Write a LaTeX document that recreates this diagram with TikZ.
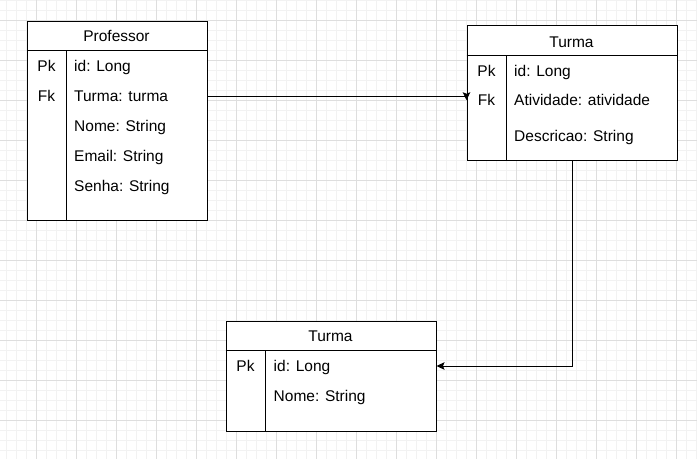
\documentclass[tikz,border=0pt]{standalone}
\usepackage{fontspec}
\setmainfont{Liberation Sans}
\usetikzlibrary{arrows.meta}
\definecolor{minorc}{HTML}{F2F2F2}
\definecolor{majorc}{HTML}{DEDEDE}
\begin{document}
\begin{tikzpicture}[x=1pt,y=-1pt,
  minorline/.style={draw=minorc,line width=1pt},
  majorline/.style={draw=majorc,line width=1pt},
  tbl/.style={draw=black,line width=1pt,fill=white,anchor=north west,inner sep=0pt},
  sep/.style={draw=black,line width=1pt},
  txt/.style={anchor=base west,inner sep=0pt,yshift=-5.5pt,font=\fontsize{15.5}{18}\selectfont},
  ttl/.style={anchor=base,inner sep=0pt,yshift=-5.5pt,font=\fontsize{15.5}{18}\selectfont},
  conn/.style={draw=black,line width=1pt,-{Stealth[length=8pt,width=7.5pt,inset=1.5pt]}}
]
\useasboundingbox (0,0) rectangle (697,459);
\fill[white] (0,0) rectangle (697,459);
\foreach \x in {6,16,...,696} \draw[minorline] (\x,0) -- (\x,459);
\foreach \y in {0.5,10.5,...,459} \draw[minorline] (0,\y) -- (697,\y);
\foreach \x in {36,76,...,676} \draw[majorline] (\x,0) -- (\x,459);
\foreach \y in {20.5,60.5,...,459} \draw[majorline] (0,\y) -- (697,\y);

% Professor
\node[tbl,minimum width=180pt,minimum height=199.5pt] (prof) at (26.5,20.5) {};
\draw[sep] (26.5,50.5) -- (206.5,50.5);
\draw[sep] (66.5,50.5) -- (66.5,220);
\node[ttl] (profT) at (116.5,36) {Professor};
\node[ttl] (profPk) at (46.5,66) {Pk};
\node[ttl] (profFk) at (46.5,96) {Fk};
\node[txt] (profId) at (74,66) {id: Long};
\node[txt] (profTurma) at (74,96) {Turma: turma};
\node[txt] (profNome) at (74,126) {Nome: String};
\node[txt] (profEmail) at (74,156) {Email: String};
\node[txt] (profSenha) at (74,186) {Senha: String};

% Turma (top)
\node[tbl,minimum width=210pt,minimum height=134.7pt] (turmaA) at (466.5,25.3) {};
\draw[sep] (466.5,55.3) -- (676.5,55.3);
\draw[sep] (506.5,55.3) -- (506.5,160);
\node[ttl] (turmaAT) at (571.5,41.7) {Turma};
\node[ttl] (turmaAPk) at (486.5,70.7) {Pk};
\node[ttl] (turmaAFk) at (486.5,100) {Fk};
\node[txt] (turmaAId) at (514,70.7) {id: Long};
\node[txt] (turmaAAtiv) at (514,100) {Atividade: atividade};
\node[txt] (turmaADesc) at (514,136) {Descricao: String};

% Turma (bottom)
\node[tbl,minimum width=210pt,minimum height=110pt] (turmaB) at (225.5,320.5) {};
\draw[sep] (225.5,350.5) -- (435.5,350.5);
\draw[sep] (265.5,350.5) -- (265.5,430.5);
\node[ttl] (turmaBT) at (330.5,336) {Turma};
\node[ttl] (turmaBPk) at (245.5,366) {Pk};
\node[txt] (turmaBId) at (273.5,366) {id: Long};
\node[txt] (turmaBNome) at (273.5,396) {Nome: String};

% connectors
\coordinate (c1) at (prof.east |- profTurma.center);
\coordinate (c1a) at (turmaA.west |- profTurma.center);
\draw[conn] (prof.east |- c1) -- (c1a) -- ++(0,4);
\coordinate (c2) at (turmaB.east |- 0,366);
\draw[conn] (turmaA.south) |- (c2);
\end{tikzpicture}
\end{document}
